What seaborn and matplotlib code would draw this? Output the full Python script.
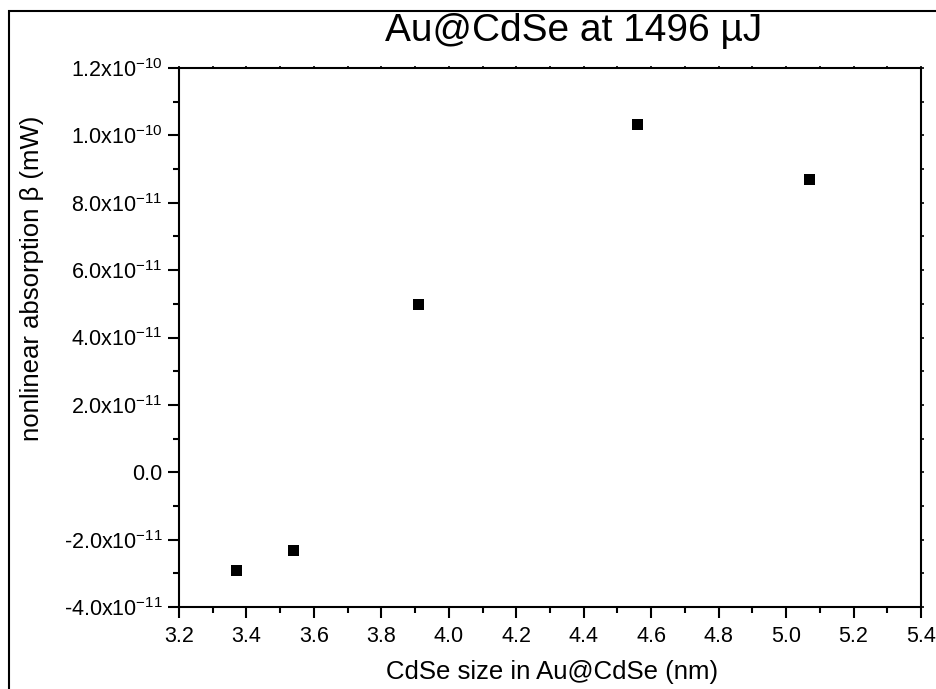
import math
import matplotlib
matplotlib.use("Agg")
import matplotlib.pyplot as plt
from matplotlib.ticker import MultipleLocator, FuncFormatter, NullFormatter
from matplotlib.patches import Rectangle
import seaborn as sns
import pandas as pd

# values
cdse_size = [3.37, 3.54, 3.91, 4.56, 5.07]
beta = [-2.93e-11, -2.31e-11, 4.99e-11, 1.031e-10, 8.68e-11]

title = "Au@CdSe at 1496 \u00b5J"
xlabel = "CdSe size in Au@CdSe (nm)"
ylabel = "nonlinear absorption \u03b2 (mW)"

sns.set_style("ticks")
plt.rcParams['font.family'] = ['Liberation Sans', 'DejaVu Sans']
plt.rcParams['mathtext.fontset'] = 'custom'
plt.rcParams['mathtext.rm'] = 'Liberation Sans'
plt.rcParams['mathtext.default'] = 'regular'
plt.rcParams['axes.unicode_minus'] = False
plt.rcParams['text.color'] = 'black'
plt.rcParams['axes.labelcolor'] = 'black'
plt.rcParams['xtick.color'] = 'black'
plt.rcParams['ytick.color'] = 'black'

df = pd.DataFrame({'size': cdse_size, 'beta': beta})

fig = plt.figure(figsize=(9.37, 6.89), dpi=100)
ax = fig.add_axes([179 / 937, 82 / 689, 742 / 937, 539 / 689])

sns.scatterplot(data=df, x='size', y='beta', ax=ax, marker='s', s=62,
                color='black', edgecolor='none', legend=False)

ax.set_xlim(3.2, 5.4)
ax.set_ylim(-4e-11, 1.2e-10)
ax.xaxis.set_major_locator(MultipleLocator(0.2))
ax.xaxis.set_minor_locator(MultipleLocator(0.1))
ax.yaxis.set_major_locator(MultipleLocator(2e-11))
ax.yaxis.set_minor_locator(MultipleLocator(1e-11))
ax.xaxis.set_major_formatter(FuncFormatter(lambda v, p: f"{v:.1f}"))


def sci_label(v, pos):
    if abs(v) < 1e-15:
        return "0.0"
    exp = math.floor(math.log10(abs(v)) + 1e-6)
    m = abs(v) / 10 ** exp
    sign = "-" if v < 0 else ""
    return f"{sign}{m:.1f}x10$^{{{exp}}}$"


ax.yaxis.set_major_formatter(FuncFormatter(sci_label))
ax.yaxis.offsetText.set_visible(False)
ax.xaxis.offsetText.set_visible(False)

for side in ['left', 'bottom', 'top', 'right']:
    ax.spines[side].set_linewidth(1.5)
    ax.spines[side].set_color('black')
ax.tick_params(which='major', direction='out', length=8, width=1.5,
               labelsize=15.5, colors='black', pad=4)
ax.tick_params(axis='x', which='major', pad=6)
ax.tick_params(which='minor', direction='out', length=4.5, width=1.5)

# small ticks on top and right spines
top = ax.secondary_xaxis('top')
top.xaxis.set_major_locator(MultipleLocator(0.1))
top.xaxis.set_major_formatter(NullFormatter())
top.xaxis.offsetText.set_visible(False)
top.tick_params(direction='out', length=1.5, width=1.2, labeltop=False)
top.spines['top'].set_visible(False)
right = ax.secondary_yaxis('right')
right.yaxis.set_major_locator(MultipleLocator(1e-11))
right.yaxis.set_major_formatter(NullFormatter())
right.yaxis.offsetText.set_visible(False)
right.tick_params(direction='out', length=2, width=1.2, labelright=False)
right.spines['right'].set_visible(False)

ax.set_xlabel("")
ax.set_ylabel("")
fig.text(552 / 937, 1 - 672 / 689, xlabel, fontsize=18.5,
         ha='center', va='center')
fig.text(32 / 937, 1 - 278 / 689, ylabel, fontsize=18.5, rotation=90,
         ha='center', va='center')
fig.text(574 / 937, 1 - 31 / 689, title, fontsize=28,
         ha='center', va='center')

# outer frame, clipped by the image edges
fig.patches.append(Rectangle((9 / 937, -0.2), 1.2, 0.2 + (689 - 11) / 689,
                             transform=fig.transFigure, fill=False,
                             edgecolor='black', linewidth=1.5, figure=fig))

fig.savefig("out.png", dpi=100)
